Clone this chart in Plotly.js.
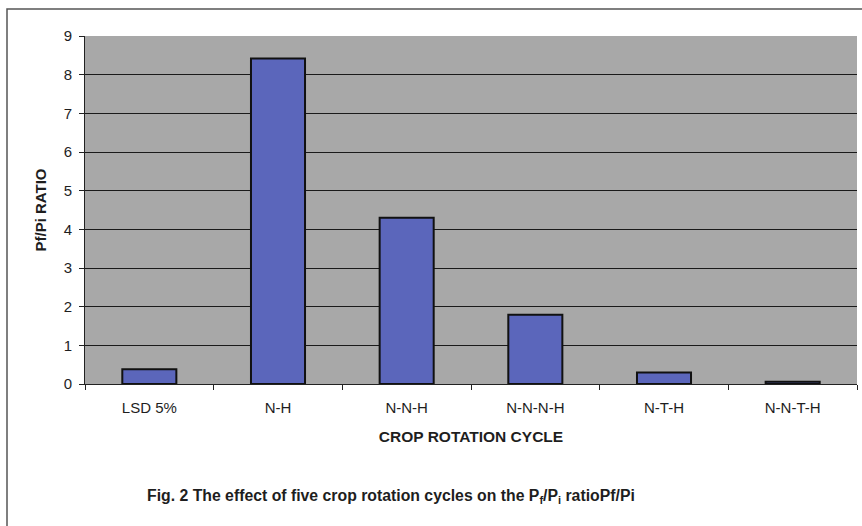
<!DOCTYPE html>
<html>
<head>
<meta charset="utf-8">
<script src="https://cdn.plot.ly/plotly-3.0.1.min.js"></script>
<style>
  body { margin: 0; background: #ffffff; }
  #grafico { width: 862px; height: 526px; }
</style>
</head>
<body>
<div id="grafico"></div>
<script>
// ciclos de rotacao e razao Pf/Pi
const ciclos = ['LSD 5%', 'N-H', 'N-N-H', 'N-N-N-H', 'N-T-H', 'N-N-T-H'];
const razaoPfPi = [0.38, 8.42, 4.3, 1.79, 0.3, 0.06];
const ticksY = [0, 1, 2, 3, 4, 5, 6, 7, 8, 9];

const fonte = 'Arial, "Liberation Sans", sans-serif';

const dados = [{
    type: 'bar',
    x: ciclos,
    y: razaoPfPi,
    marker: {color: '#5b66bb', line: {color: '#111111', width: 2}},
    hoverinfo: 'x+y'
}];

const layout = {
    width: 862,
    height: 526,
    margin: {l: 85, r: 5, t: 36, b: 142},
    paper_bgcolor: '#ffffff',
    plot_bgcolor: '#a8a8a8',
    bargap: 0.58,
    showlegend: false,
    font: {family: fonte, color: '#1e1e1e', size: 15},
    xaxis: {
        type: 'category',
        showline: true,
        linecolor: '#222222',
        linewidth: 1,
        ticks: 'outside',
        tickson: 'boundaries',
        ticklen: 5,
        tickcolor: '#222222',
        showgrid: false,
        ticklabelstandoff: 10,
        tickfont: {family: fonte, size: 15, color: '#1e1e1e'},
        title: {text: '<b>CROP ROTATION CYCLE</b>', font: {family: fonte, size: 15.5, color: '#1e1e1e'}, standoff: 16}
    },
    yaxis: {
        range: [0, 9],
        tickvals: ticksY,
        showline: true,
        linecolor: '#222222',
        linewidth: 1,
        ticks: 'outside',
        ticklen: 5,
        tickcolor: '#222222',
        showgrid: true,
        gridcolor: '#1a1a1a',
        gridwidth: 1,
        zeroline: false,
        ticklabelstandoff: 4,
        tickfont: {family: fonte, size: 15, color: '#1e1e1e'},
        title: {text: '<b>Pf/Pi RATIO</b>', font: {family: fonte, size: 15, color: '#1e1e1e'}, standoff: 13}
    },
    shapes: [{
        type: 'rect', xref: 'paper', yref: 'paper',
        x0: -78 / 772, x1: 1.05, y0: -0.5, y1: 375 / 348,
        line: {color: '#555555', width: 1.5}
    }],
    annotations: [{
        xref: 'paper', yref: 'paper',
        x: 60 / 772, y: -112 / 348,
        xanchor: 'left', yanchor: 'middle',
        showarrow: false,
        text: '<b>Fig. 2 The effect of five crop rotation cycles on the P<sub>f</sub>/P<sub>i</sub> ratioPf/Pi</b>',
        font: {family: fonte, size: 15.8, color: '#1e1e1e'}
    }]
};

Plotly.newPlot('grafico', dados, layout, {displayModeBar: false, staticPlot: true});
</script>
</body>
</html>
